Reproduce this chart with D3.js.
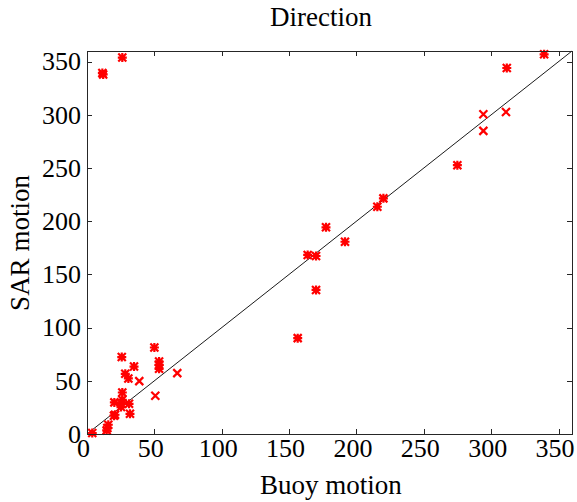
<!DOCTYPE html>
<html>
	<head>
		<title>Direction</title>
		<meta http-equiv='Content-Type' content='text/html;charset=utf-8'/>
		<style>
		body {
			margin: 0;
			background: #ffffff;
		}
		svg text {
			font-family: 'Liberation Serif', 'Times New Roman', serif;
			fill: #000000;
		}
		.axis path, .axis line {
			fill: none;
			stroke: #262626;
			stroke-width: 1px;
			shape-rendering: crispEdges;
		}
		.axis text {
			font-size: 26px;
		}
		.mark {
			stroke: #ff0000;
			stroke-width: 2.2px;
			fill: none;
		}
		</style>
	</head>

	<body>
	<script src='https://d3js.org/d3.v7.min.js'></script>

	<script>
	'use strict';
	// points drawn with an asterisk marker: [buoy, sar]
	const starPoints = [
		[3.9, 0.9], [14.6, 3.4], [15.1, 5.6], [15.8, 8.7], [20, 17.2], [20.8, 18.1],
		[31.9, 19], [25.2, 25.3], [25.8, 28.4], [31.2, 28.4], [20.3, 29.7], [26.2, 32.2],
		[26.2, 39], [30.7, 52.2], [28.4, 56.6], [53.5, 61.3], [53.5, 65], [53.5, 68.1],
		[34.9, 63.4], [25.8, 72.3], [50, 81.3], [156.4, 90.1], [170, 135.4], [163.8, 168.3],
		[170, 167.3], [191.5, 180.7], [177.4, 194.3], [215.5, 213.6], [220, 221.5],
		[274.9, 252.7], [339.3, 356.9], [311.6, 344], [11.4, 339.3], [12, 338], [26.2, 353.8]
	];
	// points drawn with an x marker
	const crossPoints = [
		[38.8, 49.7], [67, 57.2], [50.7, 35.9], [294.2, 300.6], [311, 302.7], [294.2, 284.9]
	];
	const ticks = [0, 50, 100, 150, 200, 250, 300, 350];
	const domain = [0, 360];

	const margin = {top: 51, right: 5, bottom: 68, left: 87};
	const width = 577 - margin.left - margin.right;
	const height = 502 - margin.top - margin.bottom;

	const x = d3.scaleLinear().domain(domain).range([0, width]);
	const y = d3.scaleLinear().domain(domain).range([height, 0]);

	const root = d3.select('body').append('svg')
		.attr('width', 577)
		.attr('height', 502);

	const svg = root.append('g')
		.attr('transform', 'translate(' + margin.left + ',' + margin.top + ')');

	// identity line
	svg.append('line')
		.attr('x1', x(domain[0])).attr('y1', y(domain[0]))
		.attr('x2', x(domain[1])).attr('y2', y(domain[1]))
		.attr('stroke', '#000000')
		.attr('stroke-width', 0.9);

	// markers
	const s = 4;
	svg.selectAll('.star')
		.data(starPoints)
		.enter().append('path')
		  .attr('class', 'mark')
		  .attr('d', function(d) {
			const cx = x(d[0]), cy = y(d[1]);
			return 'M' + (cx - s) + ',' + (cy - s) + 'L' + (cx + s) + ',' + (cy + s) +
				'M' + (cx - s) + ',' + (cy + s) + 'L' + (cx + s) + ',' + (cy - s) +
				'M' + (cx - s - 0.5) + ',' + cy + 'L' + (cx + s + 0.5) + ',' + cy +
				'M' + cx + ',' + (cy - s - 0.5) + 'L' + cx + ',' + (cy + s + 0.5);
		  });

	svg.selectAll('.cross')
		.data(crossPoints)
		.enter().append('path')
		  .attr('class', 'mark')
		  .attr('d', function(d) {
			const cx = x(d[0]), cy = y(d[1]);
			return 'M' + (cx - s) + ',' + (cy - s) + 'L' + (cx + s) + ',' + (cy + s) +
				'M' + (cx - s) + ',' + (cy + s) + 'L' + (cx + s) + ',' + (cy - s);
		  });

	// axes with inward ticks on all four sides
	svg.append('g')
		.attr('class', 'x axis')
		.attr('transform', 'translate(0,' + height + ')')
		.call(d3.axisBottom(x).tickValues(ticks).tickSizeInner(-5).tickSizeOuter(0).tickPadding(5))
		.selectAll('text')
		  .attr('dx', -4);

	svg.append('g')
		.attr('class', 'axis')
		.call(d3.axisTop(x).tickValues(ticks).tickSizeInner(-5).tickSizeOuter(0).tickFormat(''));

	svg.append('g')
		.attr('class', 'y axis')
		.call(d3.axisLeft(y).tickValues(ticks).tickSizeInner(-5).tickSizeOuter(0).tickPadding(6));

	svg.append('g')
		.attr('class', 'axis')
		.attr('transform', 'translate(' + width + ',0)')
		.call(d3.axisRight(y).tickValues(ticks).tickSizeInner(-5).tickSizeOuter(0).tickFormat(''));

	// title and axis labels
	root.append('text')
		.attr('x', 321).attr('y', 26)
		.attr('text-anchor', 'middle')
		.style('font-size', '27px')
		.text('Direction');

	root.append('text')
		.attr('x', 331).attr('y', 494)
		.attr('text-anchor', 'middle')
		.style('font-size', '27px')
		.text('Buoy motion');

	root.append('text')
		.attr('transform', 'translate(29,243) rotate(-90)')
		.attr('text-anchor', 'middle')
		.style('font-size', '27px')
		.text('SAR motion');
	</script>
</body>
</html>
